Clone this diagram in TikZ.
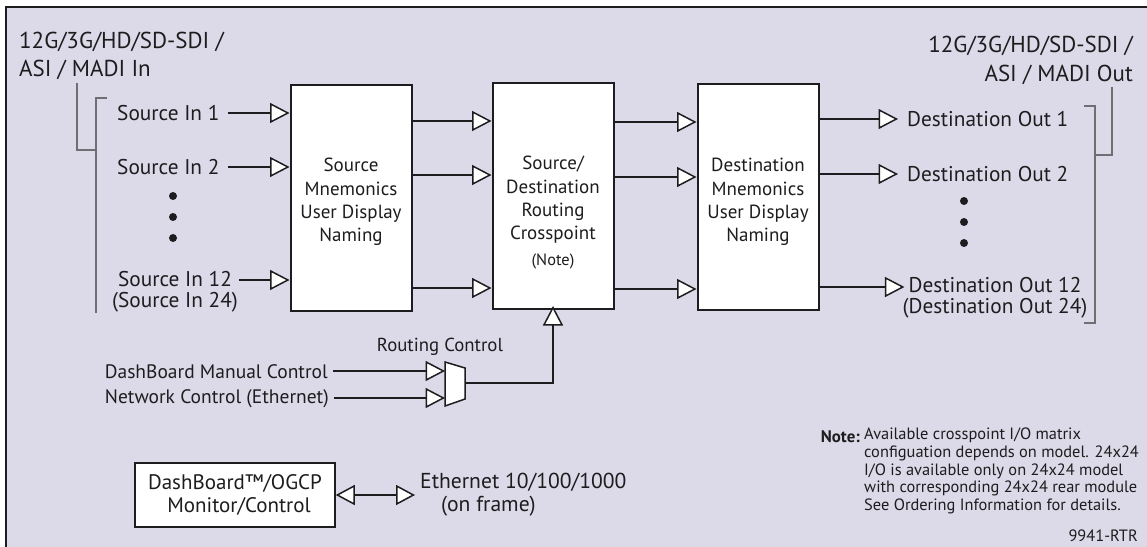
\documentclass[tikz,border=0pt]{standalone}
\usepackage{fontspec}
\setmainfont{PT Sans}
\usetikzlibrary{arrows.meta}
\definecolor{bg}{RGB}{220,218,232}
\definecolor{ink}{RGB}{30,28,30}
\definecolor{brk}{RGB}{110,110,115}
\begin{document}
\begin{tikzpicture}[x=1pt,y=-1pt,
  lbl/.style={inner sep=0pt, text=ink, font=\fontsize{21.3}{23}\selectfont},
  hdr/.style={inner sep=0pt, text=ink, font=\fontsize{23}{23}\selectfont},
  ctl/.style={inner sep=0pt, text=ink, font=\fontsize{19.5}{23}\selectfont},
  small/.style={inner sep=0pt, text=ink, font=\fontsize{16.4}{17.6}\selectfont},
  blk/.style={draw=ink, line width=2pt, fill=white, minimum width=121pt, minimum height=226pt, inner sep=0pt},
  btext/.style={inner sep=0pt, text=ink, align=center, font=\fontsize{19}{23.3}\selectfont},
  arr/.style={draw=ink, line width=2pt, -{Triangle[open, length=19.5pt, width=20pt, line width=1.5pt, fill=white]}},
  dbl/.style={draw=ink, line width=2pt, {Triangle[open, length=19pt, width=20pt, line width=1.5pt, fill=white]}-{Triangle[open, length=19pt, width=20pt, line width=1.5pt, fill=white]}},
  brack/.style={draw=brk, line width=1.2pt},
  dotn/.style={circle, fill=ink, inner sep=0pt, minimum size=8pt}
]
\useasboundingbox (0,0) rectangle (1147,546);
\clip (0,0) rectangle (1147,546);
\fill[white] (0,0) rectangle (1147,546);
\draw[fill=bg, draw=ink, line width=1.5pt] (6,7) rectangle (1170,570);

% headers
\node[hdr, anchor=west] (hin1) at (19,42) {12G/3G/HD/SD-SDI /};
\node[hdr, anchor=west] (hin2) at (19,70) {ASI / MADI In};
\node[hdr, anchor=east] (hout1) at (1133,46) {12G/3G/HD/SD-SDI /};
\node[hdr, anchor=east] (hout2) at (1133,75) {ASI / MADI Out};

% left bracket
\coordinate (lb1) at (77,83);
\coordinate (lb2) at (77,150);
\coordinate (lb3) at (96,150);
\coordinate (lb4) at (107,98);
\coordinate (lb5) at (96,98);
\coordinate (lb6) at (96,313);
\draw[brack] (lb1) -- (lb2) -- (lb3);
\draw[brack] (lb4) -- (lb5) -- (lb6);

% right bracket
\coordinate (rb1) at (1084,106);
\coordinate (rb2) at (1095,106);
\coordinate (rb3) at (1095,323);
\coordinate (rb4) at (1084,323);
\coordinate (rb5) at (1095,155);
\coordinate (rb6) at (1112,155);
\coordinate (rb7) at (1112,87);
\draw[brack] (rb1) -- (rb2) -- (rb3) -- (rb4);
\draw[brack] (rb5) -- (rb6) -- (rb7);

% blocks
\node[blk] (b1) at (351,198) {};
\node[blk] (b2) at (553,196) {};
\node[blk] (b3) at (758,197) {};
\node[btext] (b1t) at (351,202) {Source\\Mnemonics\\User Display\\Naming};
\node[btext] (b2t) at (553,200) {Source/\\Destination\\Routing\\Crosspoint};
\node[small] (b2n) at (553,261) {(Note)};
\node[btext] (b3t) at (758,202) {Destination\\Mnemonics\\User Display\\Naming};

% sources
\node[lbl, anchor=west] (s1) at (117,113) {Source In 1};
\node[lbl, anchor=west] (s2) at (117,167) {Source In 2};
\node[lbl] (s12) at (175,279) {Source In 12};
\node[lbl] (s24) at (175,302) {(Source In 24)};
\node[dotn] (ld1) at (173,196) {};
\node[dotn] (ld2) at (173,217) {};
\node[dotn] (ld3) at (173,238) {};
\coordinate (y1) at (0,113);
\coordinate (y2) at (0,167);
\coordinate (y12) at (0,280);
\draw[arr] ([xshift=8pt]s1.east |- y1) -- (b1.west |- y1);
\draw[arr] ([xshift=8pt]s2.east |- y2) -- (b1.west |- y2);
\draw[arr] ([xshift=7pt]s12.east |- y12) -- (b1.west |- y12);

% between blocks
\coordinate (ya) at (0,121);
\coordinate (yb) at (0,175);
\coordinate (yc) at (0,288);
\draw[arr] (b1.east |- ya) -- (b2.west |- ya);
\draw[arr] (b1.east |- yb) -- (b2.west |- yb);
\draw[arr] (b1.east |- yc) -- (b2.west |- yc);
\coordinate (yd) at (0,122);
\coordinate (ye) at (0,177);
\coordinate (yf) at (0,289);
\draw[arr] (b2.east |- yd) -- (b3.west |- yd);
\draw[arr] (b2.east |- ye) -- (b3.west |- ye);
\draw[arr] (b2.east |- yf) -- (b3.west |- yf);

% destinations
\node[lbl, anchor=west] (d1) at (907,119) {Destination Out 1};
\node[lbl, anchor=west] (d2) at (907,174) {Destination Out 2};
\node[lbl] (d12) at (995,285) {Destination Out 12};
\node[lbl] (d24) at (995,308) {(Destination Out 24)};
\node[dotn] (rd1) at (964,201) {};
\node[dotn] (rd2) at (964,222) {};
\node[dotn] (rd3) at (964,243) {};
\coordinate (yo1) at (0,119);
\coordinate (yo2) at (0,174);
\coordinate (yg) at (0,287);
\draw[arr] (b3.east |- yo1) -- ([xshift=-9pt]d1.west |- yo1);
\draw[arr] (b3.east |- yo2) -- ([xshift=-9pt]d2.west |- yo2);
\draw[arr] (b3.east |- yg) -- ([xshift=-4pt]d12.west |- yg);

% routing control
\node[ctl, font=\fontsize{18.8}{23}\selectfont] (rc) at (440,347) {Routing Control};
\node[ctl, anchor=east] (dmc) at (328,372) {DashBoard Manual Control};
\node[ctl, anchor=east] (nc) at (329,399) {Network Control (Ethernet)};
\coordinate (m1) at (445,362);
\coordinate (m2) at (465,368);
\coordinate (m3) at (465,399);
\coordinate (m4) at (445,406);
\coordinate (mout) at (465,383);
\coordinate (yh) at (0,371);
\coordinate (yi) at (0,398);
\draw[fill=white, draw=ink, line width=1.5pt] (m1) -- (m2) -- (m3) -- (m4) -- cycle;
\draw[arr] ([xshift=5pt]dmc.east |- yh) -- (m1 |- yh);
\draw[arr] ([xshift=5pt]nc.east |- yi) -- (m1 |- yi);
\draw[arr] (mout) -| ([yshift=4pt]b2.south);

% dashboard
\node[draw=ink, line width=1.5pt, fill=white, minimum width=200pt, minimum height=64pt, inner sep=0pt, align=center, text=ink, font=\fontsize{21}{23}\selectfont] (db) at (235,495) {DashBoard™/OGCP\\\hspace*{8pt}Monitor/Control};
\node[lbl, font=\fontsize{21.6}{23}\selectfont, anchor=west] (eth) at (420,482) {Ethernet 10/100/1000};
\node[lbl, font=\fontsize{21.6}{23}\selectfont, anchor=west] (onf) at (441,506) {(on frame)};
\coordinate (ethend) at (415,495);
\draw[dbl] (db.east) -- (ethend);

% note
\node[small, anchor=east, font=\fontsize{16.8}{17.6}\selectfont\bfseries] (nt) at (860,437) {Note:};
\node[small, anchor=north west, align=left] (ntx) at (864,428) {Available crosspoint I/O matrix\\configuation depends on model. 24x24\\I/O is available only on 24x24 model\\with corresponding 24x24 rear module\\See Ordering Information for details.};
\node[small, anchor=east] (code) at (1138,536) {9941-RTR};
\end{tikzpicture}
\end{document}
